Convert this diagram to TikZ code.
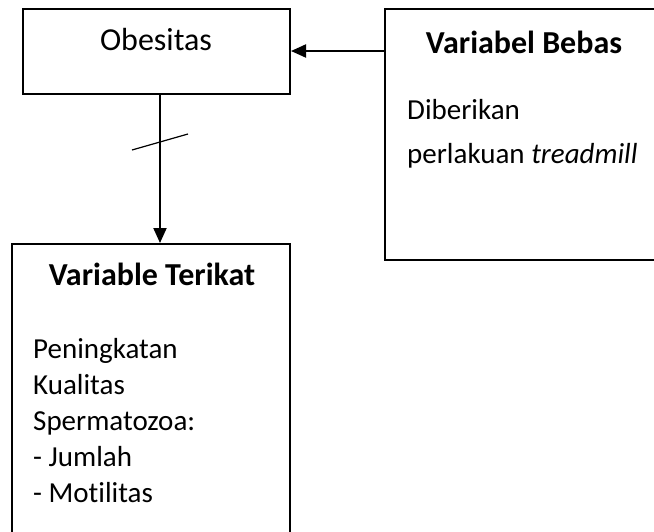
\documentclass[tikz,border=0pt]{standalone}
\usepackage{fontspec}
\setmainfont[RawFeature={-liga;-clig}]{Carlito}
\usetikzlibrary{arrows.meta}
\begin{document}
\begin{tikzpicture}[x=1pt,y=-1pt,
  box/.style={draw=black,line width=2pt,rectangle,inner sep=0pt},
  txt/.style={inner sep=0pt,font=\fontsize{29}{35}\selectfont},
  big/.style={inner sep=0pt,font=\fontsize{32}{38}\selectfont},
  conn/.style={line width=2pt,-{Triangle[length=15pt,width=13pt]}}]
\useasboundingbox[fill=white] (0,0) rectangle (654,531);
% boxes
\node[box,minimum width=267pt,minimum height=85pt] (obes) at (156.5,51.5) {};
\node[box,minimum width=290pt,minimum height=251pt] (bebas) at (530,134.5) {};
\node[box,minimum width=278pt,minimum height=310pt] (terikat) at (151,399) {};
% texts
\node[big,anchor=base] (tobes) at (156,50) {Obesitas};
\node[big,anchor=base] (tbebas) at (524,53) {\bfseries Variabel Bebas};
\node[txt,anchor=base west] (tb1) at (407,119) {Diberikan};
\node[txt,anchor=base west] (tb2) at (407,163) {perlakuan \textit{treadmill}};
\node[big,anchor=base] (tter) at (152,285) {\bfseries Variable Terikat};
\node[txt,anchor=base west] (t1) at (33,358) {Peningkatan};
\node[txt,anchor=base west] (t2) at (33,394) {Kualitas};
\node[txt,anchor=base west] (t3) at (33,430) {Spermatozoa:};
\node[txt,anchor=base west] (t4) at (33,466) {- Jumlah};
\node[txt,anchor=base west] (t5) at (33,502) {- Motilitas};
% connectors
\draw[conn] (bebas.west |- 0,51) -- (obes.east |- 0,51);
\draw[conn] (obes.south -| 160,0) -- (terikat.north -| 160,0);
\coordinate (s1) at (132,150);
\coordinate (s2) at (188,134);
\draw[line width=1.2pt] (s1) -- (s2);
\end{tikzpicture}
\end{document}
